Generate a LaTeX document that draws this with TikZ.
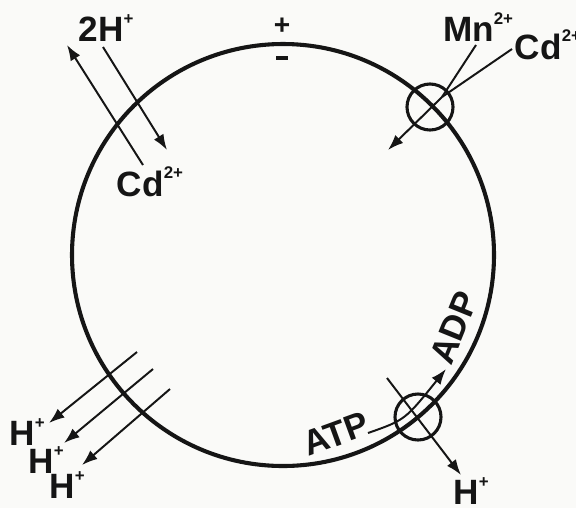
\documentclass[tikz,border=0pt]{standalone}
\usepackage{fontspec}
\setmainfont{Liberation Sans}
\usepackage{xcolor}
\usepackage{tikz}
\usetikzlibrary{arrows.meta,positioning,calc}
\definecolor{Ink}{HTML}{151515}
\definecolor{Paper}{HTML}{FAFAF8}
\newcommand{\charge}[1]{\raisebox{0.5em}{\fontsize{12}{13}\selectfont #1}}
\tikzset{
  membrane/.style={draw=Ink,line width=2.9pt},
  carrier/.style={circle,draw=Ink,line width=2.2pt,minimum size=1.15cm,inner sep=0pt},
  flux/.style={draw=Ink,line width=1.4pt,-{Latex[length=3.9mm,width=2.8mm]}},
  feed/.style={draw=Ink,line width=1.4pt},
  ion/.style={font=\fontsize{25}{28}\selectfont\bfseries,text=Ink,inner sep=1pt},
  sign/.style={font=\fontsize{20}{22}\selectfont\bfseries,text=Ink,inner sep=0pt}
}

\begin{document}
\begin{tikzpicture}[x=0.025cm,y=-0.025cm]
  \fill[Paper] (0,0) rectangle (576,508);
  \clip (0,0) rectangle (576,508);
  \useasboundingbox (0,0) rectangle (576,508);
  % cell membrane
  \coordinate (cell) at (283,255);
  \draw[membrane] (cell) circle[radius=211];
  \node[sign] (plus) at (282,26) {+};
  \node[sign] (minus) at (282,58) {\rule{0.28cm}{2.2pt}};
  % 2H+ / Cd2+ antiport
  \node[ion] (hTwo) at (106,28) {2H\charge{+}};
  \node[ion] (cdIn) at (150,182) {Cd\charge{2+}};
  \coordinate (cdTail) at (143,165);
  \coordinate (hHead) at (67,45);
  \coordinate (hTail) at (103,47);
  \coordinate (cdHead) at (167,150);
  \draw[flux] (cdTail) -- (hHead);
  \draw[flux] (hTail) -- (cdHead);
  % Mn2+ / Cd2+ uptake channel
  \node[carrier] (chan) at (430,107) {};
  \node[ion] (mnOut) at (478,27) {Mn\charge{2+}};
  \node[ion] (cdOut) at (548,45) {Cd\charge{2+}};
  \coordinate (mnTail) at (476,45);
  \coordinate (cdJoin) at (512,49);
  \coordinate (merge) at (442,97);
  \coordinate (uptake) at (388,150);
  \draw[feed] (mnTail) -- (merge);
  \draw[feed] (cdJoin) -- (merge);
  \draw[flux] (merge) -- (uptake);
  % passive H+ efflux
  \foreach \i/\ax/\ay/\bx/\by/\lx/\ly in {1/137/352/49/423/27/432, 2/153/369/64/443/46/460, 3/170/389/82/465/67/485} {
    \node[ion] (hLeak\i) at (\lx,\ly) {H\charge{+}};
    \coordinate (leakTail\i) at (\ax,\ay);
    \coordinate (leakHead\i) at (\bx,\by);
    \draw[flux] (leakTail\i) -- (leakHead\i);
  }
  % H+-ATPase
  \node[carrier] (pump) at (418,417) {};
  \node[ion,rotate=20] (atp) at (336,434) {ATP};
  \node[ion,rotate=68] (adp) at (454,328) {ADP};
  \node[ion] (hPump) at (471,491) {H\charge{+}};
  \coordinate (atpEnd) at (368,433);
  \coordinate (adpTip) at (446,369);
  \coordinate (pumpTail) at (387,378);
  \coordinate (pumpHead) at (461,475);
  \draw[flux] (atpEnd) .. controls (405,420) .. (adpTip);
  \draw[flux] (pumpTail) -- (pumpHead);
\end{tikzpicture}
\end{document}
